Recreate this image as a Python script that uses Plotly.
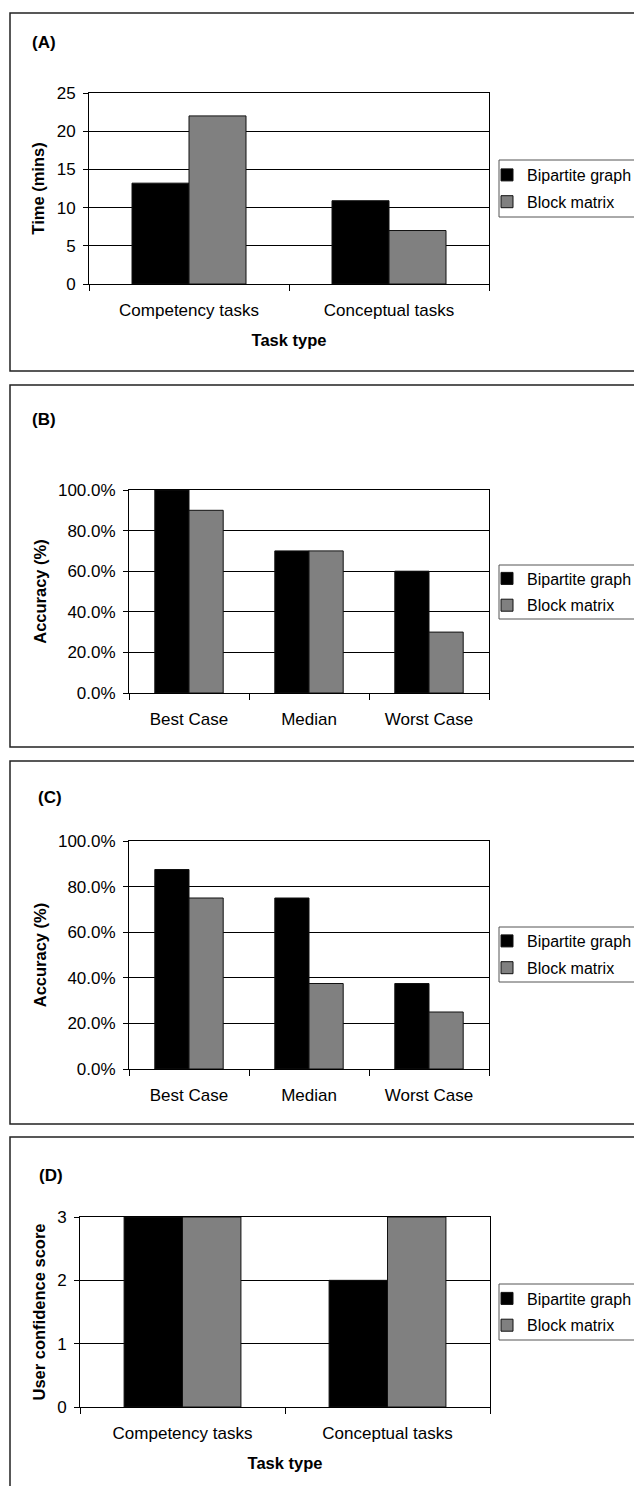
import plotly.graph_objects as go

# ---------------- data ----------------
task_categories = ["Competency tasks", "Conceptual tasks"]
case_categories = ["Best Case", "Median", "Worst Case"]
series_names = ["Bipartite graph", "Block matrix"]

time_bipartite = [13.2, 10.9]
time_block = [22.0, 7.0]

acc_b_bipartite = [1.0, 0.70, 0.60]
acc_b_block = [0.90, 0.70, 0.30]

acc_c_bipartite = [0.875, 0.75, 0.375]
acc_c_block = [0.75, 0.375, 0.25]

conf_bipartite = [3, 2]
conf_block = [3, 3]

panel_labels = ["(A)", "(B)", "(C)", "(D)"]
y_titles = ["Time (mins)", "Accuracy (%)", "Accuracy (%)", "User confidence score"]
x_title = "Task type"

# ---------------- geometry helpers ----------------
W, H = 634, 1486
FONT = "Liberation Sans, Arial, sans-serif"
COLORS = ["#000000", "#808080"]


def px(x):
    return x / W


def py(y):
    return 1 - y / H


fig = go.Figure()

panels = [
    dict(cats=task_categories, vals=[time_bipartite, time_block], x=(89, 489), y=(93, 284),
         yr=[0, 25], dtick=5, fmt=None, legend_y=(160, 217), xtitle=True),
    dict(cats=case_categories, vals=[acc_b_bipartite, acc_b_block], x=(129, 489), y=(490, 693),
         yr=[0, 1], dtick=0.2, fmt=".1%", legend_y=(565, 619), xtitle=False),
    dict(cats=case_categories, vals=[acc_c_bipartite, acc_c_block], x=(129, 489), y=(841, 1069),
         yr=[0, 1], dtick=0.2, fmt=".1%", legend_y=(927, 982), xtitle=False),
    dict(cats=task_categories, vals=[conf_bipartite, conf_block], x=(80, 490), y=(1217, 1407),
         yr=[0, 3], dtick=1, fmt=None, legend_y=(1284, 1340), xtitle=True),
]

borders = [(13, 371), (385, 747), (761, 1124), (1137, 1495)]
label_pos = [(44, 43), (44, 419), (50, 797), (51, 1175)]

shapes = []
annotations = []
layout_extra = {}

for i, p in enumerate(panels):
    n = i + 1
    xa = "x" if n == 1 else f"x{n}"
    ya = "y" if n == 1 else f"y{n}"
    leg = "legend" if n == 1 else f"legend{n}"
    for s in range(2):
        fig.add_trace(go.Bar(
            x=p["cats"], y=p["vals"][s], name=series_names[s],
            marker=dict(color=COLORS[s], line=dict(color="#111111", width=1)),
            xaxis=xa, yaxis=ya, legend=leg, legendgroup=f"g{s}",
            showlegend=True, hoverinfo="skip",
        ))

    xkey = "xaxis" if n == 1 else f"xaxis{n}"
    ykey = "yaxis" if n == 1 else f"yaxis{n}"
    layout_extra[xkey] = dict(
        domain=[px(p["x"][0]), px(p["x"][1])], anchor=ya, type="category",
        showline=True, linecolor="black", linewidth=1, mirror=True,
        ticks="outside", tickson="boundaries", ticklen=6, tickcolor="black",
        showgrid=False, ticklabelstandoff=11,
        tickfont=dict(family=FONT, size=17, color="black"),
        title=dict(text=f"<b>{x_title}</b>" if p["xtitle"] else "",
                   font=dict(family=FONT, size=16.5, color="black"), standoff=15),
        fixedrange=True,
    )
    yd = dict(
        domain=[py(p["y"][1]), py(p["y"][0])], anchor=xa, range=p["yr"], dtick=p["dtick"],
        showline=True, linecolor="black", linewidth=1, mirror=True,
        ticks="outside", ticklen=5, tickcolor="black",
        showgrid=True, gridcolor="black", gridwidth=1, zeroline=False,
        ticklabelstandoff=4,
        tickfont=dict(family=FONT, size=17, color="black"),
        title=dict(text=f"<b>{y_titles[i]}</b>", font=dict(family=FONT, size=16.5, color="black"),
                   standoff=7),
        fixedrange=True,
    )
    if p["fmt"]:
        yd["tickformat"] = p["fmt"]
    layout_extra[ykey] = yd

    ly0, ly1 = p["legend_y"]
    layout_extra[leg] = dict(
        x=px(487), xanchor="left", y=py((ly0 + ly1) / 2), yanchor="middle",
        bgcolor="rgba(0,0,0,0)", borderwidth=0, tracegroupgap=3,
        font=dict(family=FONT, size=16, color="black"),
        traceorder="grouped",
    )
    shapes.append(dict(type="rect", xref="paper", yref="paper",
                       x0=px(499), x1=px(660), y0=py(ly1), y1=py(ly0),
                       line=dict(color="#555555", width=1), fillcolor="rgba(0,0,0,0)", layer="above"))

    b0, b1 = borders[i]
    shapes.append(dict(type="rect", xref="paper", yref="paper",
                       x0=px(10), x1=px(660), y0=py(b1), y1=py(b0),
                       line=dict(color="#222222", width=1.5), fillcolor="rgba(0,0,0,0)", layer="below"))
    lx, lyy = label_pos[i]
    annotations.append(dict(text=f"<b>{panel_labels[i]}</b>", xref="paper", yref="paper",
                            x=px(lx), y=py(lyy), xanchor="center", yanchor="middle",
                            showarrow=False, font=dict(family=FONT, size=17, color="black")))

fig.update_layout(
    width=W, height=H,
    margin=dict(l=0, r=0, t=0, b=0, autoexpand=False),
    paper_bgcolor="white", plot_bgcolor="white",
    barmode="group", bargap=0.43, bargroupgap=0,
    shapes=shapes, annotations=annotations,
    font=dict(family=FONT, color="black"),
    **layout_extra,
)

fig.write_html(
    "out.html",
    config={"displayModeBar": False},
    post_script="document.body.style.margin='0';document.body.style.overflow='hidden';",
)
